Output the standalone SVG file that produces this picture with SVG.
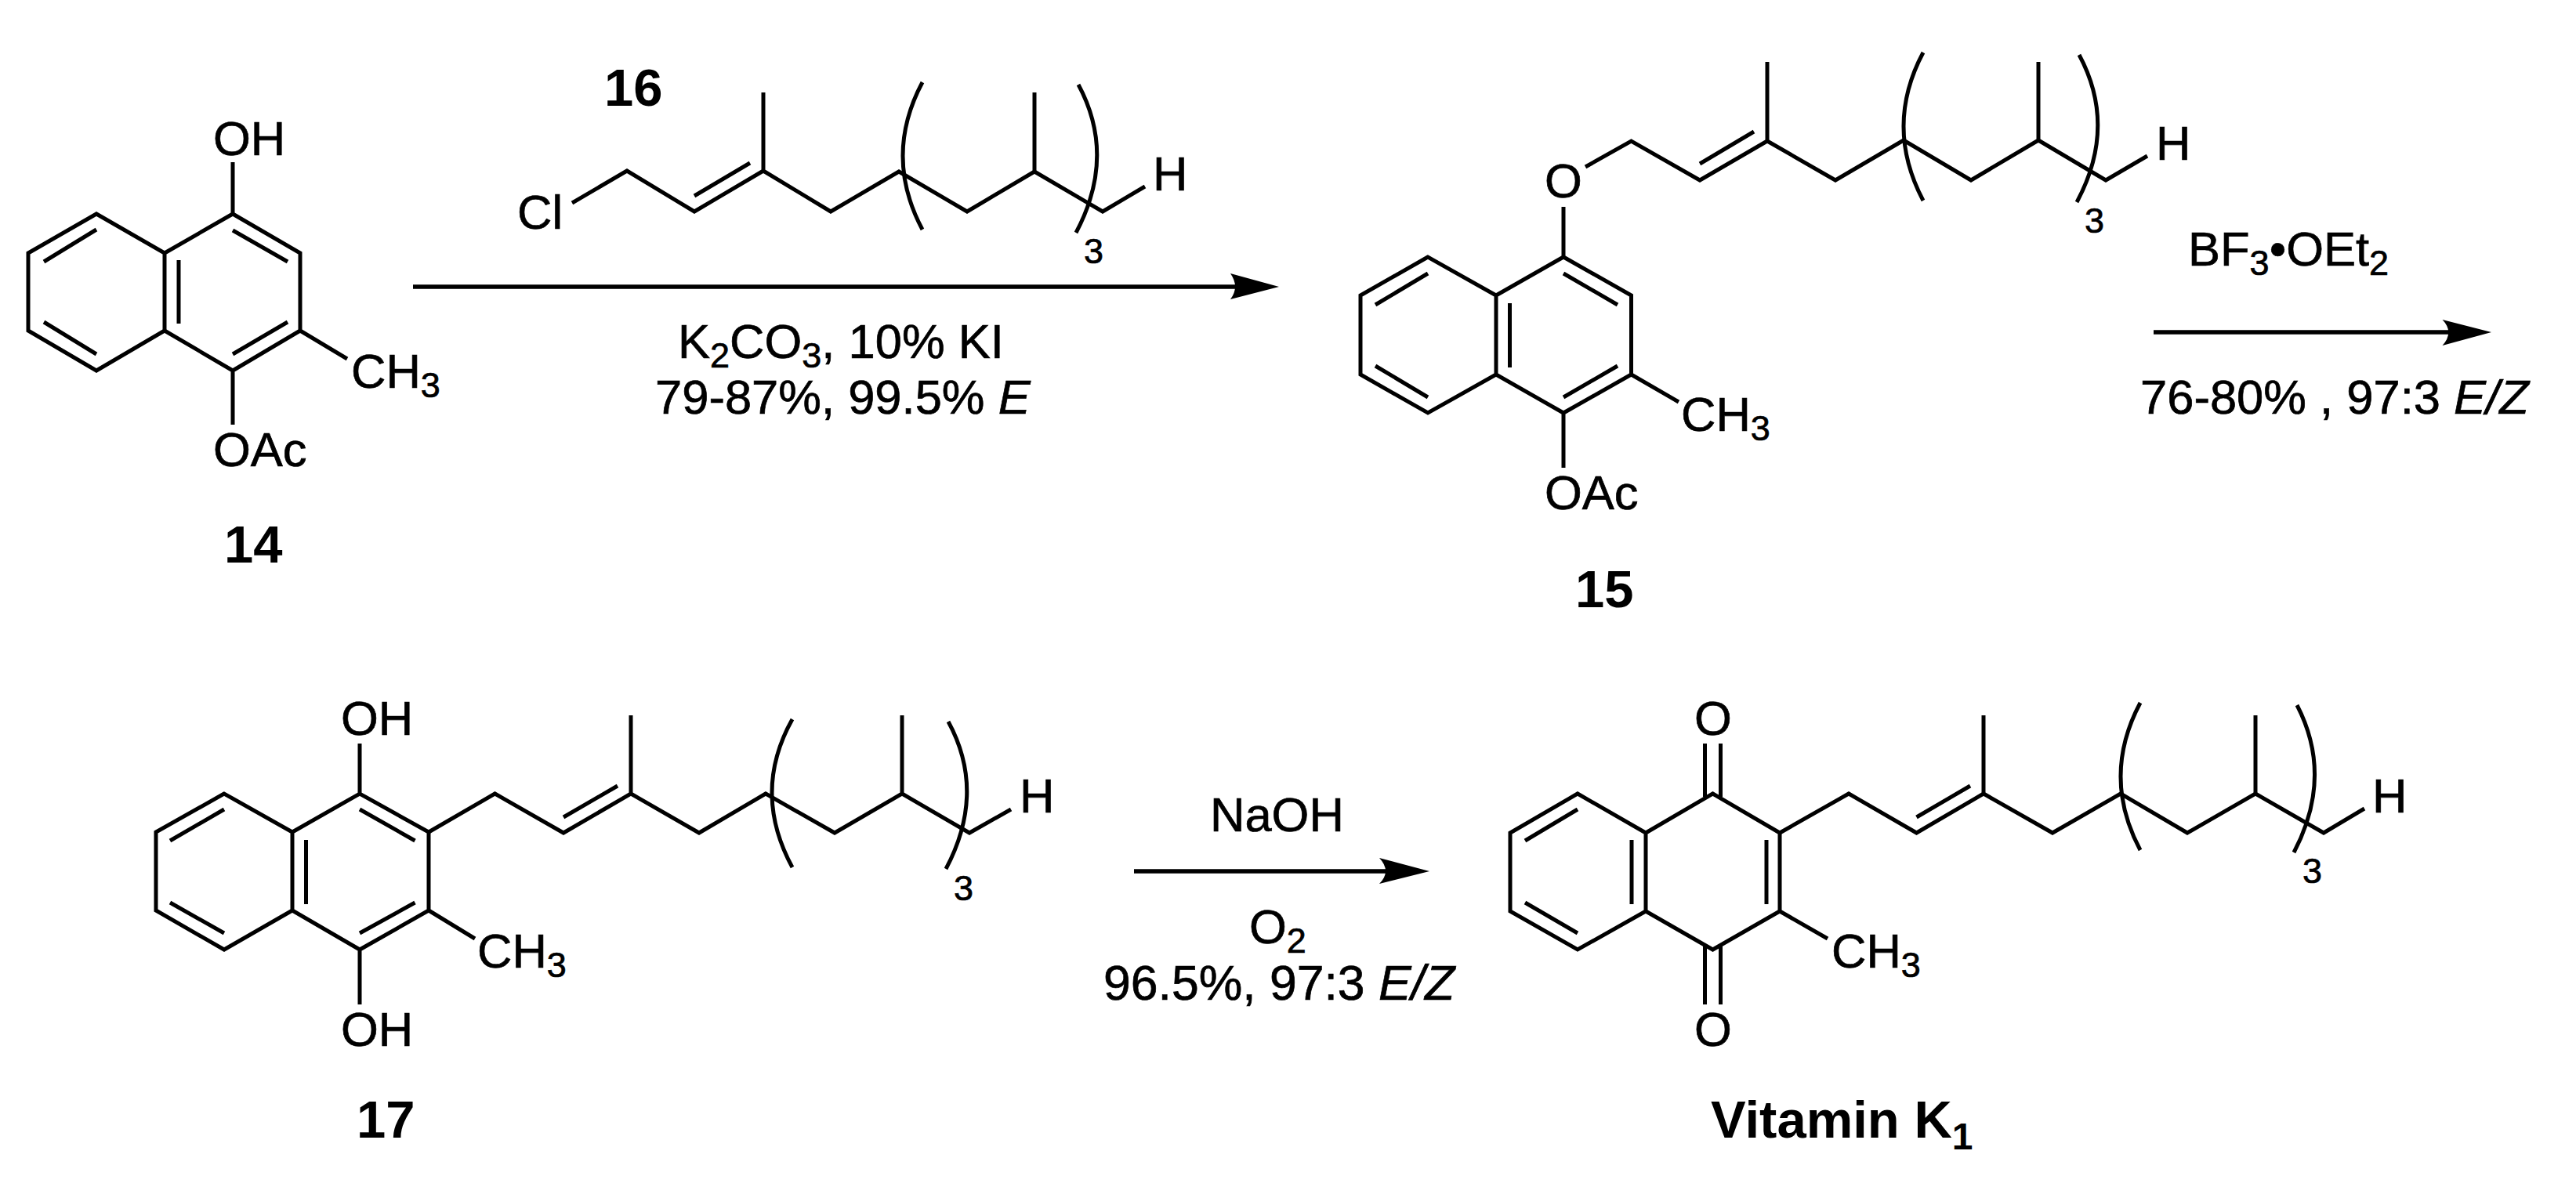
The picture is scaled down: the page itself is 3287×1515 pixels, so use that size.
<svg xmlns="http://www.w3.org/2000/svg" width="3287" height="1515" viewBox="0 0 3287 1515">
<style>
text{font-family:"Liberation Sans",Arial,sans-serif;font-size:61.500px;fill:#000;stroke:#000;stroke-width:.7}
.b{font-weight:700;font-size:67px;stroke-width:0}
.s{font-size:45px}
.bs{font-size:48px}
.i{font-style:italic}
.bond{fill:none;stroke:#000;stroke-width:5;stroke-linejoin:miter;stroke-linecap:butt}
.arrow{fill:none;stroke:#000;stroke-width:5.500}
.head{fill:#000;stroke:none}
</style>
<rect width="3287" height="1515" fill="#fff"/>
<g id="connectors">
<path class="arrow" d="M527 366H1580"/><path class="head" d="M1632 366L1570 349Q1582 366 1570 382Z"/>
<path class="arrow" d="M2748 424H3130"/><path class="head" d="M3179 424L3116.500 408Q3132 424 3116.500 441Z"/>
<path class="arrow" d="M1447 1112H1775"/><path class="head" d="M1824 1112L1760 1095Q1776 1112 1760 1128Z"/>
</g>
<g id="mol-14">
<path class="bond" d="M123 273L36 323V422L123 473L210 422V323ZM210 323L297 273L383 323V422L297 473L210 422M297 207V273M383 422L443 458M297 473V542"/>
<path class="bond" d="M123 293L56 334M56 411L123 452M228 332V413M297 294L367 334M297 452L367 411"/>
<text x="272" y="198">OH</text>
<text x="448" y="495">CH<tspan class="s" dy="12">3</tspan></text>
<text x="272" y="595">OAc</text>
<text class="b" x="286" y="718">14</text>
</g>
<g id="mol-16">
<path class="bond" d="M730 259L800 218L886 270L974 218L1060 270L1147 219L1234 270L1320 219L1407 270L1461 238M886 250L957 208M974 218V118M1320 219V118"/>
<path class="bond" d="M1177 105Q1127 199 1177 293M1376 108Q1425 199 1373 297"/>
<text x="660" y="292">Cl</text>
<text x="1471" y="243">H</text>
<text class="s" x="1383" y="336">3</text>
<text class="b" x="771" y="135">16</text>
</g>
<g id="mol-15">
<path class="bond" d="M1822 328L1736 377V478L1822 527L1909 478V377ZM1909 377L1995 328L2081.500 377V478L1995 527L1909 478M1822 349L1755 389M1755 467L1822 507M1926.500 387V469M1995 349L2064 389M1995 507L2064 467M1995 264V328M2081.500 478L2142 513M1995 527V597"/>
<path class="bond" d="M2023 213L2081.500 180L2169 230L2255 180L2342 230L2429 179L2515 230L2601 179L2687 230L2740 199M2169 209L2238 168M2255 180V79M2601 179V79"/>
<path class="bond" d="M2454 67Q2404 161 2454 256M2653 70Q2702 161 2650 258"/>
<text x="1971" y="252">O</text>
<text x="2145" y="550">CH<tspan class="s" dy="12">3</tspan></text>
<text x="1971" y="650">OAc</text>
<text x="2751" y="204">H</text>
<text class="s" x="2660" y="297">3</text>
<text class="b" x="2010" y="775">15</text>
</g>
<g id="reagents-1">
<text x="865" y="457">K<tspan class="s" dy="12">2</tspan><tspan dy="-12">CO</tspan><tspan class="s" dy="12">3</tspan><tspan dy="-12">, 10% KI</tspan></text>
<text x="836" y="528">79-87%, 99.5% <tspan class="i">E</tspan></text>
</g>
<g id="reagents-2">
<text x="2792" y="339">BF<tspan class="s" dy="12">3</tspan><tspan dy="-12">•OEt</tspan><tspan class="s" dy="12">2</tspan></text>
<text x="2731" y="528">76-80% , 97:3 <tspan class="i">E/Z</tspan></text>
</g>
<g id="mol-17">
<path class="bond" d="M286 1013L199 1062V1162L286 1212L373 1162V1062ZM373 1062L459 1013L547 1062V1162L459 1212L373 1162M286 1033L217 1073M217 1152L286 1191M390.500 1072V1154M459 1033L529.500 1073M459 1191L529.500 1152M459 949V1013M459 1212V1282M547 1162L606 1198"/>
<path class="bond" d="M547 1062L631.500 1013L719 1063L805 1013L892 1063L977 1013L1065 1063L1151 1013L1237 1063L1290 1033M719 1043L788 1003M805 1013V913M1151 1013V913"/>
<path class="bond" d="M1011 918Q959 1011 1011 1107M1210 921Q1259 1011 1207 1109"/>
<text x="435" y="938">OH</text>
<text x="435" y="1335">OH</text>
<text x="609" y="1235">CH<tspan class="s" dy="12">3</tspan></text>
<text x="1301" y="1037">H</text>
<text class="s" x="1217" y="1149">3</text>
<text class="b" x="455" y="1452">17</text>
</g>
<g id="reagents-3">
<text x="1544" y="1061">NaOH</text>
<text x="1594" y="1204">O<tspan class="s" dy="12">2</tspan></text>
<text x="1408" y="1276" style="font-size:62.500px">96.5%, 97:3 <tspan class="i">E/Z</tspan></text>
</g>
<g id="vitamin-k1">
<path class="bond" d="M2013 1013L1927 1063V1163L2013 1212L2100 1163V1063ZM2100 1063L2185.500 1013L2271 1063V1163L2185.500 1212L2100 1163M2013 1033L1946 1073M1946 1152L2013 1191M2082 1072V1154M2254 1072V1154M2175.500 949V1017M2195.500 949V1017M2175.500 1208V1282M2195.500 1208V1282M2271 1163L2332 1198"/>
<path class="bond" d="M2271 1063L2359 1013L2445.500 1063L2531 1013L2619 1063L2706 1013L2791 1063L2878 1013L2965 1063L3017 1032M2445.500 1043L2514 1003M2531 1013V913M2878 1013V913"/>
<path class="bond" d="M2731 897Q2681 991 2731 1085M2931 900Q2978 991 2927 1088"/>
<text x="2162" y="938">O</text>
<text x="2162" y="1335">O</text>
<text x="2337" y="1235">CH<tspan class="s" dy="12">3</tspan></text>
<text x="3027" y="1037">H</text>
<text class="s" x="2938" y="1127">3</text>
<text class="b" x="2183" y="1452">Vitamin K<tspan class="bs" dy="15">1</tspan></text>
</g>
</svg>
